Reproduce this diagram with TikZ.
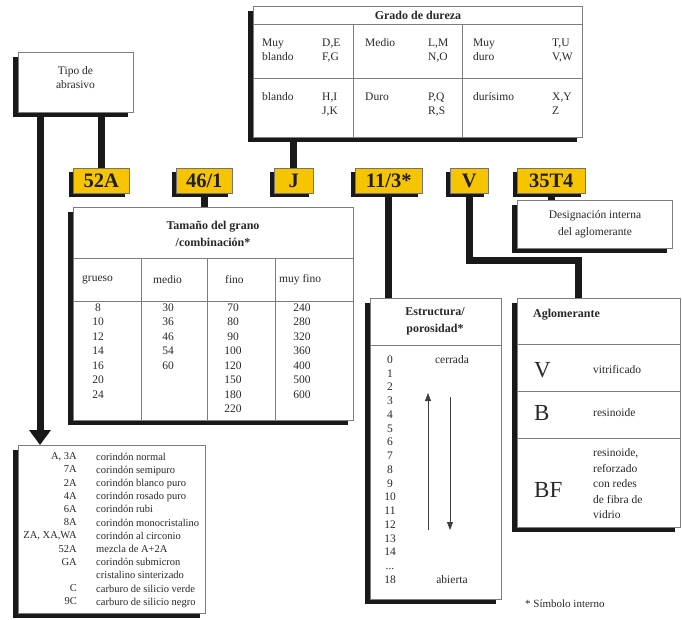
\documentclass[tikz,border=0pt]{standalone}
\usepackage{fontspec}
\setmainfont{Liberation Serif}
\usetikzlibrary{shadows,arrows.meta,backgrounds}
\definecolor{ylw}{RGB}{247,197,0}
\definecolor{txt}{RGB}{40,40,40}
\definecolor{bord}{RGB}{125,125,125}
\definecolor{conncol}{RGB}{25,25,25}
\begin{document}
\begin{tikzpicture}[x=1pt,y=-1pt,
  box/.style={draw=bord, line width=0.8pt, fill=white, inner sep=0pt, anchor=north west,
    drop shadow={shadow xshift=-5pt, shadow yshift=-5pt, fill=conncol, opacity=1}},
  lbl/.style={draw=black!55, line width=0.5pt, fill=ylw, inner sep=0pt, anchor=north west,
    minimum height=25pt, text=black!88, font=\fontsize{20.5}{21}\selectfont\bfseries,
    drop shadow={shadow xshift=-4pt, shadow yshift=-4pt, fill=conncol, opacity=1}},
  conn/.style={line width=7pt, conncol, line join=miter},
  div/.style={draw=bord, line width=0.8pt},
  t/.style={inner sep=0pt, text=txt, font=\fontsize{11.5}{14}\selectfont},
  tb/.style={t, font=\fontsize{12}{17}\selectfont\bfseries},
  tl/.style={inner sep=0pt, text=txt, font=\fontsize{10.5}{13.2}\selectfont},
  big/.style={inner sep=0pt, text=txt, font=\fontsize{23}{25}\selectfont},
  thinarrow/.style={draw=black!75, line width=0.8pt, -{Triangle[width=6pt,length=8pt]}}
]
\useasboundingbox (0,0) rectangle (682,620);

% ---------- boxes ----------
\node[box, minimum width=115pt, minimum height=60pt] (tipo) at (18,52) {};
\node[t, align=center] (tipotxt) at (75.5,78) {Tipo de\\abrasivo};

\node[box, minimum width=329pt, minimum height=131pt] (grado) at (253,6) {};
\node[box, minimum width=280pt, minimum height=213pt] (tam) at (73,207) {};
\node[box, minimum width=155pt, minimum height=48pt] (desig) at (517,200) {};
\node[box, minimum width=131pt, minimum height=301pt] (estr) at (370,298) {};
\node[box, minimum width=163pt, minimum height=229pt] (aglo) at (517,298) {};
\node[box, minimum width=187pt, minimum height=168pt] (list) at (18,445) {};

% ---------- yellow labels ----------
\node[lbl, minimum width=56pt] (l52) at (73,168) {52A};
\node[lbl, minimum width=56pt] (l46) at (176,168) {46/1};
\node[lbl, minimum width=39pt] (lJ) at (274,168) {J};
\node[lbl, minimum width=67pt] (l113) at (355,168) {11/3*};
\node[lbl, minimum width=38pt] (lV) at (450,168) {V};
\node[lbl, minimum width=68pt] (l35) at (517,168) {35T4};

% ---------- connectors ----------
\begin{pgfonlayer}{background}
  \coordinate (arrtop) at (40,112);
  \draw[conn, -{Triangle[width=21pt,length=15pt]}] (arrtop) -- (arrtop |- list.north);
  \draw[conn] (tipo.south -| l52.north) -- (l52.north);
  \draw[conn] (grado.south -| lJ.north) -- (lJ.north);
  \draw[conn] (l46.south) -- (l46.south |- tam.north);
  \draw[conn] (l113.south) -- (l113.south |- estr.north);
  \coordinate (vbend) at (578,260);
  \draw[conn] (lV.south) -- (lV.south |- vbend) -- (vbend) -- (vbend |- aglo.north);
  \draw[conn] (l35.south) -- (l35.south |- desig.north);
\end{pgfonlayer}

% ---------- Grado de dureza ----------
\draw[div] (grado.west |- 0,24) -- (grado.east |- 0,24);
\draw[div] (grado.west |- 0,78) -- (grado.east |- 0,78);
\draw[div] (353,24) -- (353,0 |- grado.south);
\draw[div] (462,24) -- (462,0 |- grado.south);
\node[tb] (gradot) at (418,15) {Grado de dureza};
\node[t, align=left, anchor=north west] (g1) at (262,38.5) {Muy\\blando};
\node[t, align=left, anchor=north west] (g2) at (322,38.5) {D,E\\F,G};
\node[t, align=left, anchor=north west] (g3) at (365,38.5) {Medio};
\node[t, align=left, anchor=north west] (g4) at (428,38.5) {L,M\\N,O};
\node[t, align=left, anchor=north west] (g5) at (473,38.5) {Muy\\duro};
\node[t, align=left, anchor=north west] (g6) at (552,38.5) {T,U\\V,W};
\node[t, align=left, anchor=north west] (g7) at (262,92.5) {blando};
\node[t, align=left, anchor=north west] (g8) at (322,92.5) {H,I\\J,K};
\node[t, align=left, anchor=north west] (g9) at (365,92.5) {Duro};
\node[t, align=left, anchor=north west] (g10) at (428,92.5) {P,Q\\R,S};
\node[t, align=left, anchor=north west] (g11) at (473,92.5) {durísimo};
\node[t, align=left, anchor=north west] (g12) at (552,92.5) {X,Y\\Z};

% ---------- Tamano del grano ----------
\draw[div] (tam.west |- 0,258) -- (tam.east |- 0,258);
\draw[div] (tam.west |- 0,301) -- (tam.east |- 0,301);
\draw[div] (141,258) -- (141,0 |- tam.south);
\draw[div] (207,258) -- (207,0 |- tam.south);
\draw[div] (275,258) -- (275,0 |- tam.south);
\node[tb, align=center] (tamt) at (213,233.5) {Tamaño del grano\\/combinación*};
\node[t, anchor=west] (h1) at (82,280) {grueso};
\node[t, anchor=west] (h2) at (153,280) {medio};
\node[t, anchor=west] (h3) at (225,280) {fino};
\node[t, anchor=west] (h4) at (279,280) {muy fino};
\node[t, align=center, anchor=north, font=\fontsize{11.5}{14.5}\selectfont] (c1) at (98,303.5) {8\\10\\12\\14\\16\\20\\24};
\node[t, align=center, anchor=north, font=\fontsize{11.5}{14.5}\selectfont] (c2) at (168,303.5) {30\\36\\46\\54\\60};
\node[t, align=center, anchor=north, font=\fontsize{11.5}{14.5}\selectfont] (c3) at (233,303.5) {70\\80\\90\\100\\120\\150\\180\\220};
\node[t, align=center, anchor=north, font=\fontsize{11.5}{14.5}\selectfont] (c4) at (302,303.5) {240\\280\\320\\360\\400\\500\\600};

% ---------- Estructura ----------
\draw[div] (estr.west |- 0,345) -- (estr.east |- 0,345);
\node[tb, align=center] (estrt) at (435,321.5) {Estructura/\\porosidad*};
\node[t, align=center, anchor=north, font=\fontsize{11.5}{13.75}\selectfont] (enums) at (390,355.5)
  {0\\1\\2\\3\\4\\5\\6\\7\\8\\9\\10\\11\\12\\13\\14\\...\\18};
\node[t] (cerr) at (452,360) {cerrada};
\node[t] (abie) at (452,580) {abierta};
\coordinate (upa) at (428,530);
\coordinate (upb) at (428,393);
\coordinate (dna) at (450,397);
\coordinate (dnb) at (450,530);
\draw[thinarrow] (upa) -- (upb);
\draw[thinarrow] (dna) -- (dnb);

% ---------- Aglomerante ----------
\draw[div] (aglo.west |- 0,344) -- (aglo.east |- 0,344);
\draw[div] (aglo.west |- 0,391) -- (aglo.east |- 0,391);
\draw[div] (aglo.west |- 0,438) -- (aglo.east |- 0,438);
\node[tb, anchor=west] (aglot) at (533,315) {Aglomerante};
\node[big, anchor=west] (av) at (534,370) {V};
\node[t, anchor=west] (avt) at (593,370) {vitrificado};
\node[big, anchor=west] (ab) at (534,413) {B};
\node[t, anchor=west] (abt) at (593,413) {resinoide};
\node[big, anchor=west] (abf) at (534,490) {BF};
\node[t, align=left, anchor=north west, font=\fontsize{11.5}{15.5}\selectfont] (abft) at (593,448.5)
  {resinoide,\\reforzado\\con redes\\de fibra de\\vidrio};

% ---------- Designacion ----------
\node[t, align=center, font=\fontsize{11.5}{17}\selectfont] (desigt) at (595,224.5) {Designación interna\\del aglomerante};

% ---------- list ----------
\node[tl, align=right, anchor=north east] (codes) at (77,452.5)
  {A, 3A\\7A\\2A\\4A\\6A\\8A\\ZA, XA,WA\\52A\\GA\\\mbox{}\\C\\9C};
\node[tl, align=left, anchor=north west] (descr) at (96,452.5)
  {corindón normal\\corindón semipuro\\corindón blanco puro\\corindón rosado puro\\corindón rubi\\corindón monocristalino\\corindón al circonio\\mezcla de A+2A\\corindón submicron\\cristalino sinterizado\\carburo de silicio verde\\carburo de silicio negro};

% ---------- footnote ----------
\node[t, anchor=west, font=\fontsize{11}{13}\selectfont] (foot) at (525,604) {* Símbolo interno};
\end{tikzpicture}
\end{document}
